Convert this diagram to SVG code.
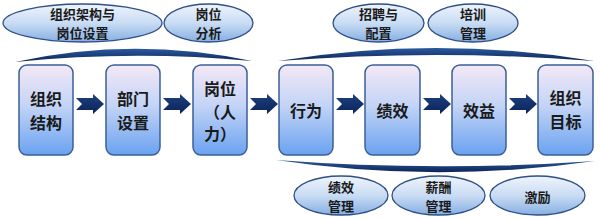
<svg xmlns="http://www.w3.org/2000/svg" width="600" height="219" viewBox="0 0 600 219">
<defs>
<linearGradient id="boxg" x1="0" y1="0" x2="0" y2="1">
<stop offset="0" stop-color="#f4e8f6"/>
<stop offset="0.45" stop-color="#c3d4f6"/>
<stop offset="1" stop-color="#6aa2f0"/>
</linearGradient>
<linearGradient id="ellg" x1="0" y1="0" x2="0" y2="1">
<stop offset="0" stop-color="#eef4fc"/>
<stop offset="0.5" stop-color="#c9dcf3"/>
<stop offset="1" stop-color="#86afe3"/>
</linearGradient>
<linearGradient id="braceg" x1="0" y1="0" x2="0" y2="1">
<stop offset="0" stop-color="#2c5aa0"/>
<stop offset="1" stop-color="#0c2456"/>
</linearGradient>
<linearGradient id="arrg" x1="0" y1="0" x2="0" y2="1">
<stop offset="0" stop-color="#1d3f80"/>
<stop offset="1" stop-color="#0b2458"/>
</linearGradient>
<path id="arr" d="M0,-6 L17,-6 L17,-10 L28,0 L17,10 L17,6 L0,6 L6,0 Z"/>
</defs>
<style>
.box{fill:url(#boxg);stroke:#3b5f97;stroke-width:1.5}
.ell{fill:url(#ellg);stroke:#2f4f86;stroke-width:1.3}
.brace{fill:url(#braceg)}
.arrow{fill:url(#arrg)}
.t{font-family:"Noto Sans CJK SC","Noto Sans",sans-serif;font-weight:bold;fill:#1a1a1a;text-anchor:middle;dominant-baseline:central}
.bt{font-size:16px}
.et{font-size:13px}
</style>

<g id="ell-org-design">
<ellipse class="ell" cx="82.5" cy="23" rx="79.5" ry="19"/>
<text class="t et" x="82.5" y="13.5">组织架构与</text>
<text class="t et" x="82.5" y="32.5">岗位设置</text>
</g>
<g id="ell-job-analysis">
<ellipse class="ell" cx="208.5" cy="23" rx="44.5" ry="19"/>
<text class="t et" x="208.5" y="13.5">岗位</text>
<text class="t et" x="208.5" y="32.5">分析</text>
</g>
<g id="ell-recruit">
<ellipse class="ell" cx="378.5" cy="23" rx="45.5" ry="19"/>
<text class="t et" x="378.5" y="13.5">招聘与</text>
<text class="t et" x="378.5" y="32.5">配置</text>
</g>
<g id="ell-training">
<ellipse class="ell" cx="473" cy="23" rx="45" ry="19"/>
<text class="t et" x="473" y="13.5">培训</text>
<text class="t et" x="473" y="32.5">管理</text>
</g>

<g id="brace-top-left">
<path class="brace" d="M15,62 Q133,36 252,61 Q133,50 15,62 Z"/>
</g>
<g id="brace-top-right">
<path class="brace" d="M278,61 Q436,35 594,61 Q436,49 278,61 Z"/>
</g>
<g id="brace-bottom">
<path class="brace" d="M276,160 Q436,184 595,161 Q436,172 276,160 Z"/>
</g>

<g id="box-org-structure">
<rect class="box" x="19" y="65" width="54" height="90" rx="8"/>
<text class="t bt" x="46" y="98">组织</text>
<text class="t bt" x="46" y="122">结构</text>
</g>
<g id="box-dept">
<rect class="box" x="106" y="65" width="54" height="90" rx="8"/>
<text class="t bt" x="133" y="98">部门</text>
<text class="t bt" x="133" y="122">设置</text>
</g>
<g id="box-job">
<rect class="box" x="193" y="65" width="54" height="90" rx="8"/>
<text class="t bt" x="220" y="88">岗位</text>
<text class="t bt" x="220" y="111">（人</text>
<text class="t bt" x="220" y="133">力）</text>
</g>
<g id="box-behavior">
<rect class="box" x="279" y="65" width="54" height="90" rx="8"/>
<text class="t bt" x="306" y="110">行为</text>
</g>
<g id="box-performance">
<rect class="box" x="365" y="65" width="55" height="90" rx="8"/>
<text class="t bt" x="392.5" y="110">绩效</text>
</g>
<g id="box-benefit">
<rect class="box" x="452" y="65" width="54" height="90" rx="8"/>
<text class="t bt" x="479" y="110">效益</text>
</g>
<g id="box-goal">
<rect class="box" x="538" y="65" width="55" height="90" rx="8"/>
<text class="t bt" x="565.5" y="97">组织</text>
<text class="t bt" x="565.5" y="121">目标</text>
</g>

<g id="connectors">
<use class="arrow" href="#arr" x="76" y="104"/>
<use class="arrow" href="#arr" x="163" y="104"/>
<use class="arrow" href="#arr" x="250" y="104"/>
<use class="arrow" href="#arr" x="336" y="104"/>
<use class="arrow" href="#arr" x="423" y="104"/>
<use class="arrow" href="#arr" x="509" y="104"/>
</g>

<g id="ell-perf-mgmt">
<ellipse class="ell" cx="341" cy="195.5" rx="47" ry="19.5"/>
<text class="t et" x="341" y="186">绩效</text>
<text class="t et" x="341" y="205">管理</text>
</g>
<g id="ell-pay-mgmt">
<ellipse class="ell" cx="438.5" cy="195.5" rx="46.5" ry="19.5"/>
<text class="t et" x="438.5" y="186">薪酬</text>
<text class="t et" x="438.5" y="205">管理</text>
</g>
<g id="ell-incentive">
<ellipse class="ell" cx="537.5" cy="195.5" rx="47.5" ry="19.5"/>
<text class="t et" x="537.5" y="196">激励</text>
</g>
</svg>
